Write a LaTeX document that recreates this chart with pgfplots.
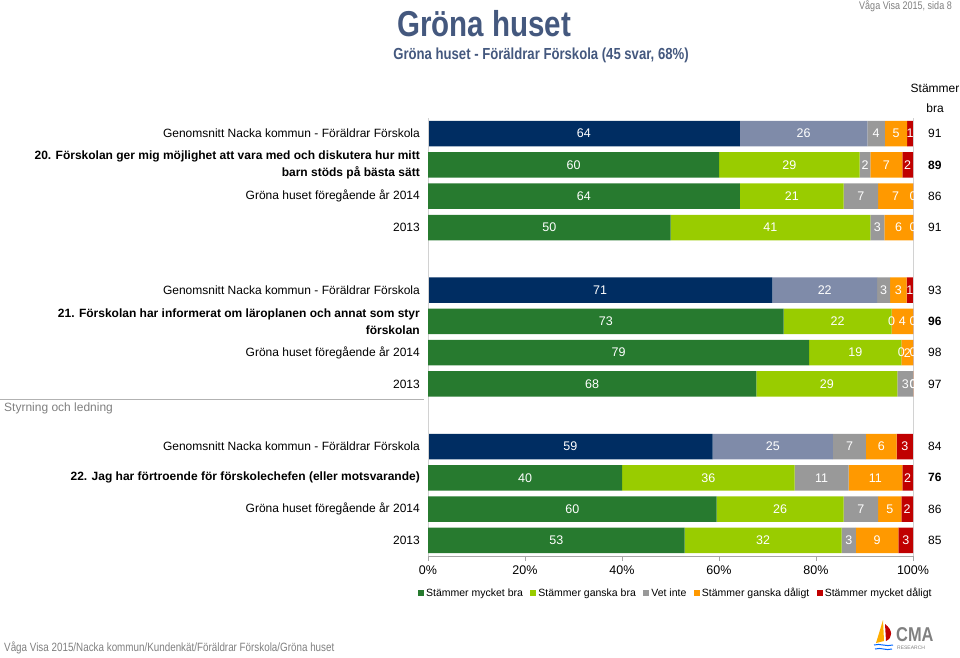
\documentclass[border=0pt]{standalone}
\usepackage{pgfplots}
\pgfplotsset{compat=1.18}
\usepackage{fontspec}
\setmainfont{Liberation Sans}
\newfontfamily\narrowfont[FakeStretch=0.82]{Liberation Sans}
\definecolor{navy}{HTML}{002D62}
\definecolor{greyblue}{HTML}{7F8BA9}
\definecolor{vetgrey}{HTML}{999999}
\definecolor{orng}{HTML}{FF9900}
\definecolor{redd}{HTML}{C00000}
\definecolor{dgreen}{HTML}{277A2F}
\definecolor{lgreen}{HTML}{99CC00}
\definecolor{titleblue}{HTML}{44587E}
\definecolor{txtgrey}{HTML}{7F7F7F}
\tikzset{rnum/.style={font=\fontsize{12}{12}\selectfont}}
\begin{document}
\begin{tikzpicture}
\useasboundingbox (0,0) rectangle (960pt,-657pt);
\pgfplotsset{
  barbase/.style={
    at={(428pt,-556pt)}, anchor=south west, scale only axis,
    width=485pt, height=438pt,
    xmin=0, xmax=100, ymin=-0.5, ymax=13.5,
    xbar stacked, bar width=25.5pt, clip=false,
    axis line style={draw=none},
    nodes near coords, point meta=explicit symbolic,
    every node near coord/.append style={text=white, font=\fontsize{12.5}{12.5}\selectfont},
  }
}
% navy (average) rows
\begin{axis}[barbase, xtick=\empty, ytick=\empty]
\addplot[fill=navy, draw=none] coordinates {(64.3,13)[64] (71,8)[71] (58.7,3)[59]};
\addplot[fill=greyblue, draw=none] coordinates {(26.3,13)[26] (21.6,8)[22] (24.8,3)[25]};
\addplot[fill=vetgrey, draw=none] coordinates {(3.6,13)[4] (2.7,8)[3] (6.8,3)[7]};
\addplot[fill=orng, draw=none] coordinates {(4.6,13)[5] (3.4,8)[3] (6.3,3)[6]};
\addplot[fill=redd, draw=none] coordinates {(1.2,13)[1] (1.3,8)[1] (3.4,3)[3]};
\end{axis}
% green rows
\begin{axis}[barbase,
  xtick={0,20,40,60,80,100},
  xticklabels={0\%,20\%,40\%,60\%,80\%,100\%},
  xtick pos=bottom, xtick align=outside, major tick length=5pt,
  x tick style={draw=gray!70, line width=0.6pt},
  xticklabel style={font=\fontsize{12.5}{12.5}\selectfont, yshift=-1pt},
  ytick={0,1,2,3,5,6,7,8,10,11,12,13},
  yticklabels={{2013},
    {Gröna huset föregående år 2014},
    {\textbf{22. Jag har förtroende för förskolechefen (eller motsvarande)}},
    {Genomsnitt Nacka kommun - Föräldrar Förskola},
    {2013},
    {Gröna huset föregående år 2014},
    {\textbf{21. Förskolan har informerat om läroplanen och annat som styr}\\\textbf{förskolan}},
    {Genomsnitt Nacka kommun - Föräldrar Förskola},
    {2013},
    {Gröna huset föregående år 2014},
    {\textbf{20. Förskolan ger mig möjlighet att vara med och diskutera hur mitt}\\\textbf{barn stöds på bästa sätt}},
    {Genomsnitt Nacka kommun - Föräldrar Förskola}},
  y tick style={draw=none},
  yticklabel style={align=right, inner sep=0pt, xshift=-8pt, font=\fontsize{12}{17}\selectfont},
  legend style={at={(0.511,-0.0845)}, anchor=center, draw=none, legend columns=5,
    font=\fontsize{10.5}{10.5}\selectfont, inner xsep=1pt,
    /tikz/every even column/.append style={column sep=5.5pt}},
  legend image code/.code={\path[#1] (0pt,-3pt) rectangle (6pt,3pt);},
]
\addplot[fill=dgreen, draw=none] coordinates {(60,12)[60] (64.3,11)[64] (50,10)[50] (73.3,7)[73] (78.6,6)[79] (67.7,5)[68] (40,2)[40] (59.5,1)[60] (52.9,0)[53]};
\addplot[fill=lgreen, draw=none] coordinates {(29,12)[29] (21.4,11)[21] (41.2,10)[41] (22.3,7)[22] (19.0,6)[19] (29.1,5)[29] (35.6,2)[36] (26.2,1)[26] (32.4,0)[32]};
\addplot[fill=vetgrey, draw=none] coordinates {(2.2,12)[2] (7.1,11)[7] (2.9,10)[3] (0.01,7)[0] (0.01,6)[0] (3.2,5)[3] (11.1,2)[11] (7.1,1)[7] (2.9,0)[3]};
\addplot[fill=orng, draw=none] coordinates {(6.6,12)[7] (7.2,11)[7] (5.9,10)[6] (4.4,7)[4] (2.4,6)[2] (0.01,5)[0] (11.1,2)[11] (4.8,1)[5] (8.8,0)[9]};
\addplot[fill=redd, draw=none] coordinates {(2.2,12)[2] (0.01,11)[0] (0.01,10)[0] (0.01,7)[0] (0.01,6)[0] (0.01,5)[0] (2.2,2)[2] (2.4,1)[2] (3.0,0)[3]};
\legend{Stämmer mycket bra, Stämmer ganska bra, Vet inte, Stämmer ganska dåligt, Stämmer mycket dåligt}
\draw[gray!35] (axis description cs:0,0) -- (axis description cs:0,1);
\draw[gray!35] (axis description cs:1,0) -- (axis description cs:1,1);
\draw[gray!70, line width=0.6pt] (axis description cs:0,0) -- (axis description cs:1,0);
\node[rnum] at (axis cs:104.5,13) {91};
\node[rnum] at (axis cs:104.5,12) {\textbf{89}};
\node[rnum] at (axis cs:104.5,11) {86};
\node[rnum] at (axis cs:104.5,10) {91};
\node[rnum] at (axis cs:104.5,8) {93};
\node[rnum] at (axis cs:104.5,7) {\textbf{96}};
\node[rnum] at (axis cs:104.5,6) {98};
\node[rnum] at (axis cs:104.5,5) {97};
\node[rnum] at (axis cs:104.5,3) {84};
\node[rnum] at (axis cs:104.5,2) {\textbf{76}};
\node[rnum] at (axis cs:104.5,1) {86};
\node[rnum] at (axis cs:104.5,0) {85};
\end{axis}
% titles and other text
\node[text=titleblue, font=\narrowfont\bfseries\fontsize{36}{36}\selectfont] at (484pt,-24pt) {Gröna huset};
\node[text=titleblue, font=\narrowfont\bfseries\fontsize{16}{16}\selectfont] at (541pt,-55pt) {Gröna huset - Föräldrar Förskola (45 svar, 68\%)};
\node[anchor=east, text=txtgrey, font=\narrowfont\fontsize{11}{11}\selectfont, inner sep=0pt] at (952pt,-6pt) {Våga Visa 2015, sida 8};
\node[align=center, font=\fontsize{12}{20}\selectfont] at (935pt,-98pt) {Stämmer\\bra};
\draw[gray!60] (0pt,-399pt) -- (424pt,-399pt);
\node[anchor=west, text=txtgrey, font=\fontsize{12}{12}\selectfont, inner sep=0pt] at (4pt,-408pt) {Styrning och ledning};
\node[anchor=west, text=txtgrey, font=\narrowfont\fontsize{12}{12}\selectfont, inner sep=0pt] at (4pt,-648pt) {Våga Visa 2015/Nacka kommun/Kundenkät/Föräldrar Förskola/Gröna huset};
% logo
\fill[orng!80!yellow] (883pt,-620pt) -- (876pt,-643pt) -- (884pt,-641pt) -- cycle;
\fill[redd] (885pt,-624pt) .. controls (893pt,-630pt) and (893pt,-638pt) .. (886pt,-641pt) -- cycle;
\draw[blue!60!cyan, line width=1pt] (874pt,-645pt) .. controls (880pt,-643pt) and (886pt,-647pt) .. (893pt,-645pt);
\draw[blue!60!cyan, line width=1pt] (875pt,-649pt) .. controls (881pt,-647pt) and (886pt,-651pt) .. (892pt,-649pt);
\node[anchor=west, text=gray, font=\narrowfont\bfseries\fontsize{20}{20}\selectfont, inner sep=0pt] at (896pt,-635pt) {CMA};
\node[anchor=west, text=gray, font=\fontsize{5}{5}\selectfont, inner sep=0pt] at (897pt,-648pt) {RESEARCH};
\end{tikzpicture}
\end{document}
